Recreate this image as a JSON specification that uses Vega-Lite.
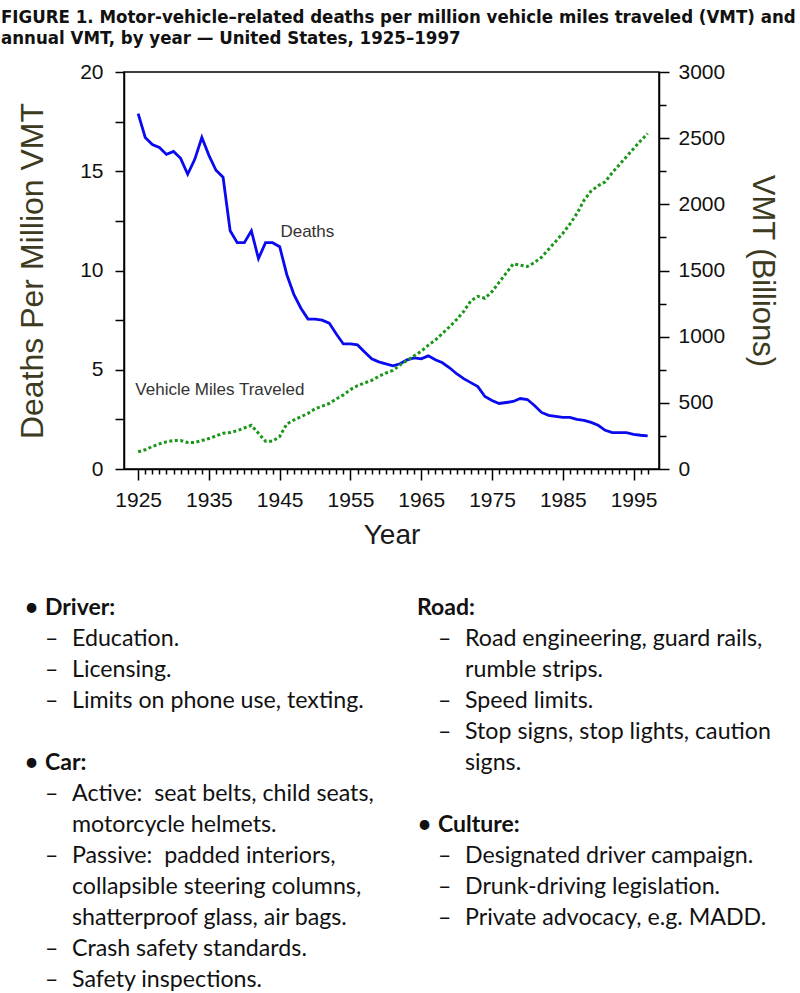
{
  "$schema": "https://vega.github.io/schema/vega-lite/v6.json",
  "width": 535,
  "height": 397,
  "autosize": "none",
  "padding": {"left": 124, "top": 72, "right": 141, "bottom": 524},
  "title": {
    "text": ["FIGURE 1. Motor-vehicle–related deaths per million vehicle miles traveled (VMT) and", "annual VMT, by year — United States, 1925–1997"],
    "anchor": "start",
    "frame": "group",
    "dx": -123,
    "offset": 14,
    "font": "DejaVu Sans Condensed",
    "fontSize": 18.5,
    "fontWeight": "bold",
    "color": "#111111",
    "lineHeight": 21
  },
  "config": {
    "view": {"stroke": "#000000", "strokeWidth": 1.5}
  },
  "datasets": {
    "series": [
      {"year": 1925, "deaths": 17.9, "vmt": 130},
      {"year": 1926, "deaths": 16.7, "vmt": 145},
      {"year": 1927, "deaths": 16.35, "vmt": 170},
      {"year": 1928, "deaths": 16.2, "vmt": 190},
      {"year": 1929, "deaths": 15.85, "vmt": 205},
      {"year": 1930, "deaths": 16.0, "vmt": 215},
      {"year": 1931, "deaths": 15.65, "vmt": 215},
      {"year": 1932, "deaths": 14.85, "vmt": 200},
      {"year": 1933, "deaths": 15.6, "vmt": 200},
      {"year": 1934, "deaths": 16.7, "vmt": 215},
      {"year": 1935, "deaths": 15.8, "vmt": 230},
      {"year": 1936, "deaths": 15.05, "vmt": 250},
      {"year": 1937, "deaths": 14.7, "vmt": 270},
      {"year": 1938, "deaths": 12.0, "vmt": 275},
      {"year": 1939, "deaths": 11.4, "vmt": 290},
      {"year": 1940, "deaths": 11.4, "vmt": 310},
      {"year": 1941, "deaths": 12.0, "vmt": 330},
      {"year": 1942, "deaths": 10.6, "vmt": 270},
      {"year": 1943, "deaths": 11.4, "vmt": 210},
      {"year": 1944, "deaths": 11.4, "vmt": 210},
      {"year": 1945, "deaths": 11.2, "vmt": 245},
      {"year": 1946, "deaths": 9.8, "vmt": 340},
      {"year": 1947, "deaths": 8.8, "vmt": 370},
      {"year": 1948, "deaths": 8.1, "vmt": 395},
      {"year": 1949, "deaths": 7.55, "vmt": 420},
      {"year": 1950, "deaths": 7.55, "vmt": 455},
      {"year": 1951, "deaths": 7.5, "vmt": 475},
      {"year": 1952, "deaths": 7.35, "vmt": 495},
      {"year": 1953, "deaths": 6.8, "vmt": 530},
      {"year": 1954, "deaths": 6.3, "vmt": 560},
      {"year": 1955, "deaths": 6.3, "vmt": 600},
      {"year": 1956, "deaths": 6.25, "vmt": 630},
      {"year": 1957, "deaths": 5.9, "vmt": 650},
      {"year": 1958, "deaths": 5.55, "vmt": 670},
      {"year": 1959, "deaths": 5.4, "vmt": 700},
      {"year": 1960, "deaths": 5.3, "vmt": 725},
      {"year": 1961, "deaths": 5.2, "vmt": 745},
      {"year": 1962, "deaths": 5.3, "vmt": 785},
      {"year": 1963, "deaths": 5.5, "vmt": 820},
      {"year": 1964, "deaths": 5.6, "vmt": 855},
      {"year": 1965, "deaths": 5.55, "vmt": 890},
      {"year": 1966, "deaths": 5.7, "vmt": 935},
      {"year": 1967, "deaths": 5.5, "vmt": 975},
      {"year": 1968, "deaths": 5.35, "vmt": 1025},
      {"year": 1969, "deaths": 5.1, "vmt": 1075},
      {"year": 1970, "deaths": 4.8, "vmt": 1130},
      {"year": 1971, "deaths": 4.55, "vmt": 1190},
      {"year": 1972, "deaths": 4.35, "vmt": 1270},
      {"year": 1973, "deaths": 4.15, "vmt": 1305},
      {"year": 1974, "deaths": 3.65, "vmt": 1290},
      {"year": 1975, "deaths": 3.45, "vmt": 1340},
      {"year": 1976, "deaths": 3.3, "vmt": 1410},
      {"year": 1977, "deaths": 3.35, "vmt": 1480},
      {"year": 1978, "deaths": 3.4, "vmt": 1550},
      {"year": 1979, "deaths": 3.55, "vmt": 1540},
      {"year": 1980, "deaths": 3.5, "vmt": 1530},
      {"year": 1981, "deaths": 3.2, "vmt": 1560},
      {"year": 1982, "deaths": 2.85, "vmt": 1600},
      {"year": 1983, "deaths": 2.7, "vmt": 1660},
      {"year": 1984, "deaths": 2.65, "vmt": 1720},
      {"year": 1985, "deaths": 2.6, "vmt": 1780},
      {"year": 1986, "deaths": 2.6, "vmt": 1850},
      {"year": 1987, "deaths": 2.5, "vmt": 1930},
      {"year": 1988, "deaths": 2.45, "vmt": 2030},
      {"year": 1989, "deaths": 2.35, "vmt": 2100},
      {"year": 1990, "deaths": 2.2, "vmt": 2140},
      {"year": 1991, "deaths": 1.95, "vmt": 2170},
      {"year": 1992, "deaths": 1.83, "vmt": 2240},
      {"year": 1993, "deaths": 1.83, "vmt": 2300},
      {"year": 1994, "deaths": 1.83, "vmt": 2360},
      {"year": 1995, "deaths": 1.75, "vmt": 2420},
      {"year": 1996, "deaths": 1.7, "vmt": 2480},
      {"year": 1997, "deaths": 1.67, "vmt": 2535}
    ],
    "labels": [
      {"label": "Deaths", "year": 1945.1, "deaths": 11.95},
      {"label": "Vehicle Miles Traveled", "year": 1924.6, "deaths": 3.98}
    ],
    "notes": [
      {"col": 0, "line": 0, "level": "head", "marker": "•", "text": "Driver:"},
      {"col": 0, "line": 1, "level": "item", "marker": "–", "text": "Education."},
      {"col": 0, "line": 2, "level": "item", "marker": "–", "text": "Licensing."},
      {"col": 0, "line": 3, "level": "item", "marker": "–", "text": "Limits on phone use, texting."},
      {"col": 0, "line": 5, "level": "head", "marker": "•", "text": "Car:"},
      {"col": 0, "line": 6, "level": "item", "marker": "–", "text": "Active:\u00a0 seat belts, child seats,"},
      {"col": 0, "line": 7, "level": "cont", "marker": "", "text": "motorcycle helmets."},
      {"col": 0, "line": 8, "level": "item", "marker": "–", "text": "Passive:\u00a0 padded interiors,"},
      {"col": 0, "line": 9, "level": "cont", "marker": "", "text": "collapsible steering columns,"},
      {"col": 0, "line": 10, "level": "cont", "marker": "", "text": "shatterproof glass, air bags."},
      {"col": 0, "line": 11, "level": "item", "marker": "–", "text": "Crash safety standards."},
      {"col": 0, "line": 12, "level": "item", "marker": "–", "text": "Safety inspections."},
      {"col": 1, "line": 0, "level": "head", "marker": "", "text": "Road:"},
      {"col": 1, "line": 1, "level": "item", "marker": "–", "text": "Road engineering, guard rails,"},
      {"col": 1, "line": 2, "level": "cont", "marker": "", "text": "rumble strips."},
      {"col": 1, "line": 3, "level": "item", "marker": "–", "text": "Speed limits."},
      {"col": 1, "line": 4, "level": "item", "marker": "–", "text": "Stop signs, stop lights, caution"},
      {"col": 1, "line": 5, "level": "cont", "marker": "", "text": "signs."},
      {"col": 1, "line": 7, "level": "head", "marker": "•", "text": "Culture:"},
      {"col": 1, "line": 8, "level": "item", "marker": "–", "text": "Designated driver campaign."},
      {"col": 1, "line": 9, "level": "item", "marker": "–", "text": "Drunk-driving legislation."},
      {"col": 1, "line": 10, "level": "item", "marker": "–", "text": "Private advocacy, e.g. MADD."}
    ]
  },
  "layer": [
    {
      "encoding": {
        "x": {
          "field": "year", "type": "quantitative",
          "scale": {"domain": [1923, 1998.6], "nice": false, "zero": false},
          "axis": {
            "values": [1925,1926,1927,1928,1929,1930,1931,1932,1933,1934,1935,1936,1937,1938,1939,1940,1941,1942,1943,1944,1945,1946,1947,1948,1949,1950,1951,1952,1953,1954,1955,1956,1957,1958,1959,1960,1961,1962,1963,1964,1965,1966,1967,1968,1969,1970,1971,1972,1973,1974,1975,1976,1977,1978,1979,1980,1981,1982,1983,1984,1985,1986,1987,1988,1989,1990,1991,1992,1993,1994,1995,1996,1997],
            "format": "d",
            "labelExpr": "datum.value % 10 == 5 ? datum.label : ''",
            "tickSize": {"condition": {"test": "datum.value % 10 == 5", "value": 11}, "value": 5},
            "labelOverlap": false,
            "labelBound": false,
            "labelFlush": false,
            "labelFont": "Liberation Sans",
            "labelFontSize": 21,
            "labelColor": "#111111",
            "labelPadding": 9,
            "domain": true,
            "domainColor": "#000000",
            "domainWidth": 1.5,
            "tickColor": "#000000",
            "tickWidth": 1.5,
            "grid": false,
            "title": "Year",
            "titleFont": "Liberation Sans",
            "titleFontWeight": "normal",
            "titleFontSize": 28,
            "titleColor": "#1a1a1a",
            "titlePadding": 11
          }
        }
      },
      "layer": [
        {
          "data": {"name": "series"},
          "mark": {"type": "line", "color": "#0a0aee", "strokeWidth": 2.8},
          "encoding": {
            "y": {
              "field": "deaths", "type": "quantitative",
              "scale": {"domain": [0, 20], "nice": false},
              "axis": {
                "values": [0, 2.5, 5, 7.5, 10, 12.5, 15, 17.5, 20],
                "labelExpr": "datum.value % 5 == 0 ? datum.label : ''",
                "tickSize": 9,
                "labelOverlap": false,
                "labelBound": false,
                "labelFlush": false,
                "labelFont": "Liberation Sans",
                "labelFontSize": 21,
                "labelColor": "#111111",
                "labelPadding": 12,
                "domainColor": "#000000",
                "domainWidth": 1.5,
                "tickColor": "#000000",
                "tickWidth": 1.5,
                "grid": false,
                "title": "Deaths Per Million VMT",
                "titleFont": "Liberation Sans",
                "titleFontWeight": "normal",
                "titleFontSize": 32,
                "titleColor": "#3d3b1f",
                "titlePadding": 30
              }
            }
          }
        },
        {
          "data": {"name": "series"},
          "mark": {"type": "line", "color": "#1a961a", "strokeWidth": 3, "strokeDash": [3, 2.5]},
          "encoding": {
            "y": {
              "field": "vmt", "type": "quantitative",
              "scale": {"domain": [0, 3000], "nice": false},
              "axis": {
                "orient": "right",
                "values": [0, 250, 500, 750, 1000, 1250, 1500, 1750, 2000, 2250, 2500, 2750, 3000],
                "format": "d",
                "labelExpr": "datum.value % 500 == 0 ? datum.label : ''",
                "tickSize": {"condition": {"test": "datum.value % 500 == 0", "value": 10}, "value": 7},
                "labelOverlap": false,
                "labelBound": false,
                "labelFlush": false,
                "labelFont": "Liberation Sans",
                "labelFontSize": 21,
                "labelColor": "#111111",
                "labelPadding": 9,
                "domainColor": "#000000",
                "domainWidth": 1.5,
                "tickColor": "#000000",
                "tickWidth": 1.5,
                "grid": false,
                "title": "VMT (Billions)",
                "titleFont": "Liberation Sans",
                "titleFontWeight": "normal",
                "titleFontSize": 31,
                "titleColor": "#3d3b1f",
                "titlePadding": 21
              }
            }
          }
        },
        {
          "data": {"name": "labels"},
          "mark": {"type": "text", "align": "left", "baseline": "middle", "font": "Liberation Sans", "fontSize": 17, "color": "#333333"},
          "encoding": {
            "y": {"field": "deaths", "type": "quantitative", "scale": {"domain": [0, 20], "nice": false}, "axis": null},
            "text": {"field": "label"}
          }
        }
      ],
      "resolve": {"scale": {"y": "independent"}}
    },
    {
      "data": {"name": "notes"},
      "encoding": {
        "x": {"field": "col", "type": "quantitative", "scale": {"domain": [0.20102, 1.5623], "nice": false, "zero": false}, "axis": null},
        "y": {"field": "line", "type": "quantitative", "scale": {"domain": [-17.29, -4.484], "nice": false, "zero": false, "reverse": true}, "axis": null}
      },
      "layer": [
        {
          "transform": [{"filter": "datum.marker == '•'"}],
          "mark": {"type": "text", "align": "left", "baseline": "middle", "font": "Lato", "fontSize": 26, "dx": -21, "color": "#111111"},
          "encoding": {"text": {"field": "marker"}}
        },
        {
          "transform": [{"filter": "datum.marker == '–'"}],
          "mark": {"type": "text", "align": "left", "baseline": "middle", "font": "Lato", "fontSize": 23, "dx": 0, "color": "#111111"},
          "encoding": {"text": {"field": "marker"}}
        },
        {
          "transform": [{"filter": "datum.level == 'head' && datum.marker != ''"}],
          "mark": {"type": "text", "align": "left", "baseline": "middle", "font": "Lato", "fontSize": 23, "fontWeight": "bold", "color": "#111111"},
          "encoding": {"text": {"field": "text"}}
        },
        {
          "transform": [{"filter": "datum.level == 'head' && datum.marker == ''"}],
          "mark": {"type": "text", "align": "left", "baseline": "middle", "font": "Lato", "fontSize": 23, "fontWeight": "bold", "dx": -21, "color": "#111111"},
          "encoding": {"text": {"field": "text"}}
        },
        {
          "transform": [{"filter": "datum.level != 'head'"}],
          "mark": {"type": "text", "align": "left", "baseline": "middle", "font": "Lato", "fontSize": 23.2, "dx": 27, "color": "#111111"},
          "encoding": {"text": {"field": "text"}}
        }
      ]
    }
  ],
  "resolve": {"scale": {"x": "independent", "y": "independent"}}
}
